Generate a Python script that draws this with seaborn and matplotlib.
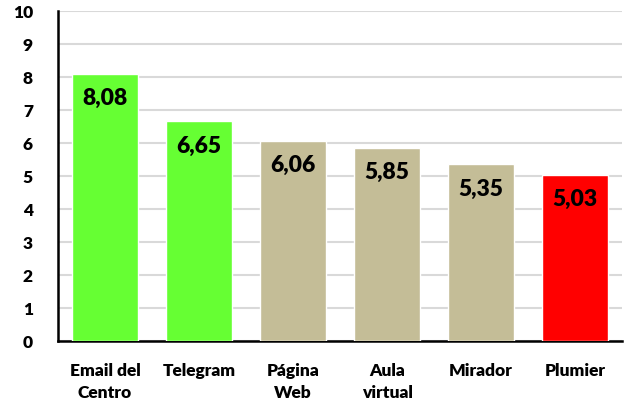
import matplotlib
matplotlib.use("Agg")
import matplotlib.pyplot as plt
import seaborn as sns
import pandas as pd

categories = ["Email del\nCentro", "Telegram", "Página\nWeb", "Aula\nvirtual", "Mirador", "Plumier"]
values = [8.08, 6.65, 6.06, 5.85, 5.35, 5.03]
colors = ["#66FF33", "#66FF33", "#C4BD97", "#C4BD97", "#C4BD97", "#FF0000"]
yticks = list(range(0, 11))

sns.set_theme(style="white")
plt.rcParams["font.family"] = ["Lato", "DejaVu Sans"]

df = pd.DataFrame({"cat": categories, "val": values})

fig = plt.figure(figsize=(6.29, 4.10), dpi=100)
ax = fig.add_axes([0.0922, 0.166, 0.897, 0.805])

sns.barplot(data=df, x="cat", y="val", hue="cat", palette=colors, legend=False,
            width=0.70, saturation=1, ax=ax, zorder=3)

W = "heavy"
ax.set_ylim(0, 10)
ax.set_yticks(yticks)
ax.set_yticklabels([str(t) for t in yticks], fontsize=12.5, fontweight=W)
ax.set_xlim(-0.5, len(categories) - 0.5)
for lbl in ax.get_xticklabels():
    lbl.set_fontsize(12.5)
    lbl.set_fontweight(W)
    lbl.set_linespacing(1.45)
ax.set_xlabel("")
ax.set_ylabel("")
ax.yaxis.grid(True, color="#D9D9D9", linewidth=1.5, zorder=0)
ax.set_axisbelow(True)
for s in ["top", "right"]:
    ax.spines[s].set_visible(False)
for s in ["left", "bottom"]:
    ax.spines[s].set_color("black")
    ax.spines[s].set_linewidth(1.8)
ax.tick_params(axis="y", length=0, pad=18, colors="black")
ax.tick_params(axis="x", length=0, pad=15, colors="black")

for i, v in enumerate(values):
    ax.annotate(f"{v:.2f}".replace(".", ","), xy=(i, v), xytext=(0, -17),
                textcoords="offset points", ha="center", va="center",
                fontsize=16.5, fontweight=W, color="black", zorder=4)

fig.savefig("out.png", dpi=100)
